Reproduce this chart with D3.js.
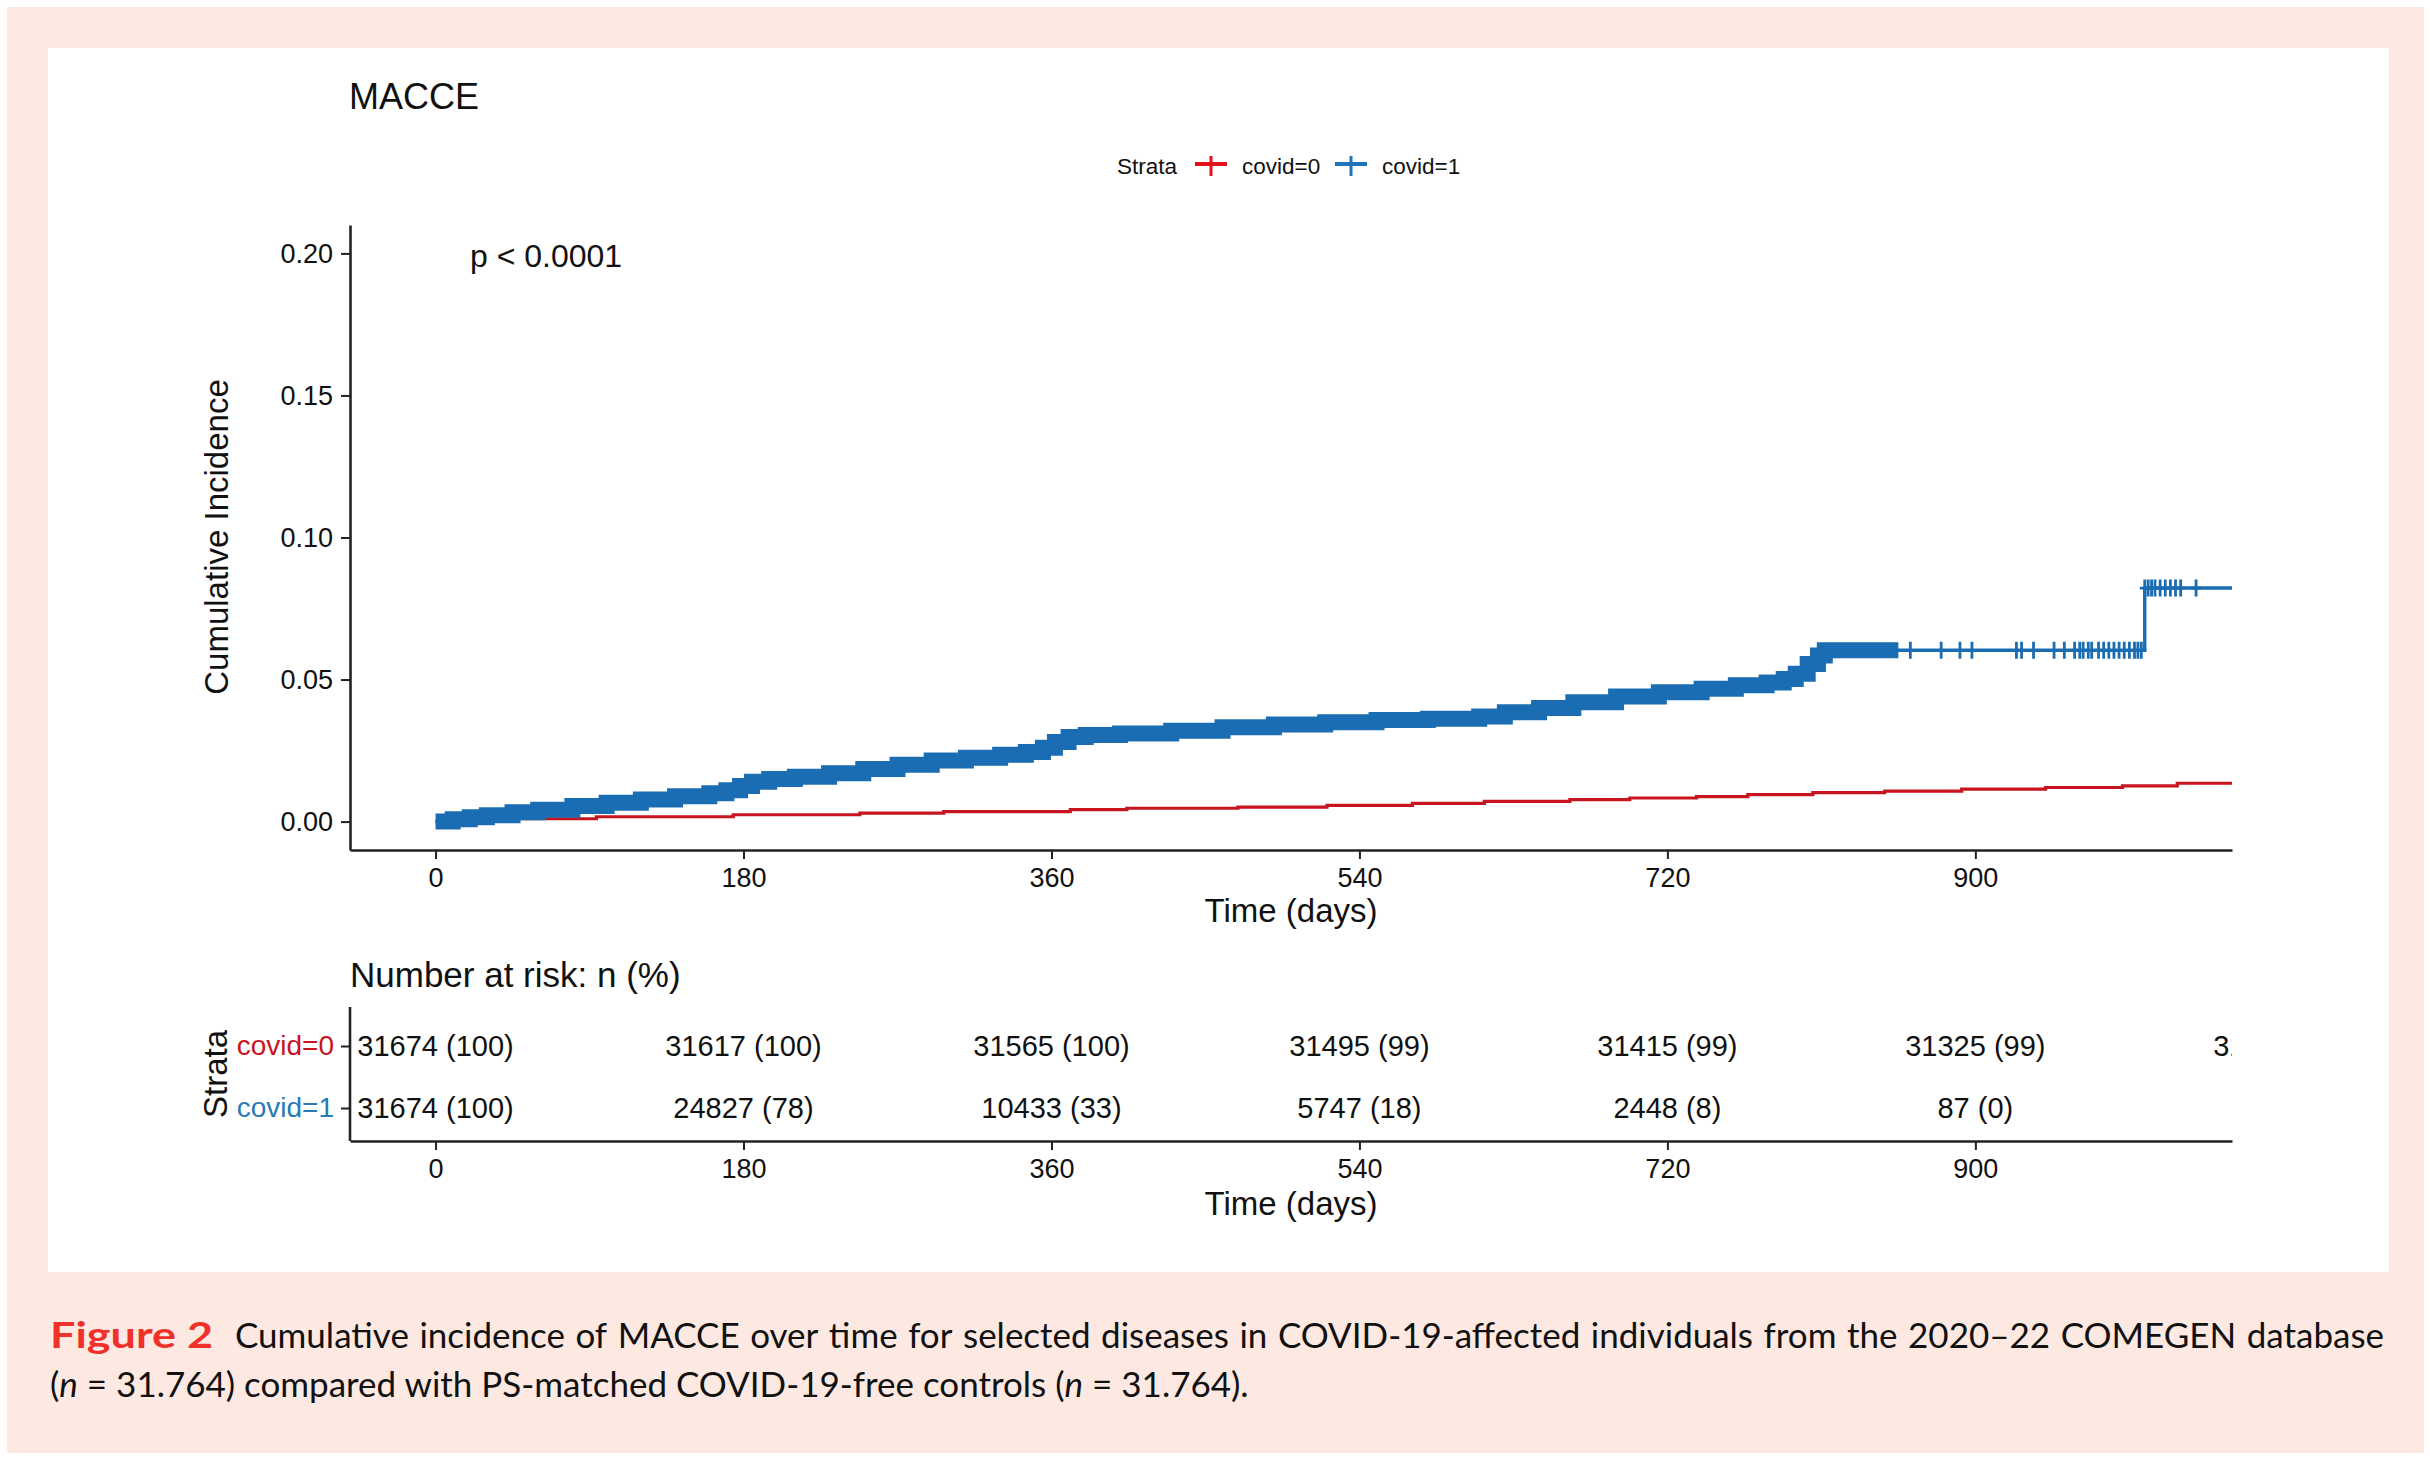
<!DOCTYPE html>
<html lang="en">
<head>
<meta charset="UTF-8">
<title>MACCE</title>
<script src="https://cdnjs.cloudflare.com/ajax/libs/d3/7.8.5/d3.min.js"></script>
<style>
  body { margin: 0; background: #fff; }
  svg { display: block; }
  text { font-family: "Liberation Sans", Arial, sans-serif; fill: #111; }
  .axis path, .axis line { stroke: #222; }
</style>
</head>
<body>
<svg id="chart" width="2430" height="1460"></svg>
<script>
// ---- data ----
var strata = ["covid=0", "covid=1"];
var xTicks = [0, 180, 360, 540, 720, 900];
var yTicks = [0, 0.05, 0.10, 0.15, 0.20];

// covid=0 step curve (days, cumulative incidence)
var covid0Time = [0, 20, 47, 94, 174, 248, 297, 371, 404, 469, 521, 571, 613, 663, 698, 737, 767, 805, 847, 892, 941, 986, 1018];
var covid0Inc  = [0, 0.0005, 0.0010, 0.0017, 0.0024, 0.0030, 0.0035, 0.0042, 0.0047, 0.0051, 0.0057, 0.0064, 0.0071, 0.0077, 0.0083, 0.0088, 0.0095, 0.0102, 0.0107, 0.0114, 0.0120, 0.0126, 0.0135];

// covid=1 step curve
var covid1Time = [0, 10, 20, 30, 45, 60, 80, 100, 120, 140, 160, 170, 178, 185, 195, 210, 230, 250, 270, 290, 310, 330, 345, 355, 362, 370, 380, 400, 430, 460, 490, 520, 550, 580, 610, 625, 645, 665, 690, 715, 740, 760, 778, 788, 795, 802, 808, 812, 999];
var covid1Inc  = [0, 0.0008, 0.0015, 0.0022, 0.0033, 0.0042, 0.0055, 0.0066, 0.0078, 0.0089, 0.0100, 0.0110, 0.0125, 0.0140, 0.0150, 0.0158, 0.0170, 0.0185, 0.0200, 0.0215, 0.0225, 0.0235, 0.0245, 0.0260, 0.0280, 0.0298, 0.0305, 0.0310, 0.0320, 0.0332, 0.0342, 0.0350, 0.0358, 0.0362, 0.0370, 0.0385, 0.0400, 0.0420, 0.0440, 0.0455, 0.0468, 0.0480, 0.0490, 0.0502, 0.0520, 0.0555, 0.0585, 0.0603, 0.0822];

// censoring of covid=1: continuous up to ~855 days, then single marks
var covid1DenseCensor = [0, 855];
var covid1Censor = [862, 880, 891, 898, 924, 927, 934, 946, 952, 958, 961, 963, 966, 968, 972, 975, 978, 981, 984, 987, 990, 993, 995, 997,
                    999, 1001, 1003, 1005, 1008, 1011, 1014, 1017, 1020, 1029];

// number at risk table
var riskTimes = [0, 180, 360, 540, 720, 900, 1080];
var risk0 = ["31674 (100)", "31617 (100)", "31565 (100)", "31495 (99)", "31415 (99)", "31325 (99)", "31235 (99)"];
var risk1 = ["31674 (100)", "24827 (78)", "10433 (33)", "5747 (18)", "2448 (8)", "87 (0)", "0 (0)"];

var captionLabel = "Figure 2";
var captionLine1 = "Cumulative incidence of MACCE over time for selected diseases in COVID-19-affected individuals from the 2020\u201322 COMEGEN database";

// ---- drawing ----
var red = "#c8141e", blue = "#1b6db3";
var svg = d3.select("#chart");

svg.append("rect").attr("x", 7).attr("y", 7).attr("width", 2417).attr("height", 1446).attr("fill", "#fde9e2");
svg.append("rect").attr("x", 48).attr("y", 48).attr("width", 2341).attr("height", 1224).attr("fill", "#fff");

var x = d3.scaleLinear().domain([-50, 1050]).range([350, 2232]);
var y = d3.scaleLinear().domain([-0.01, 0.21]).range([850, 225]);

svg.append("defs").append("clipPath").attr("id", "plotclip")
  .append("rect").attr("x", 350).attr("y", 215).attr("width", 1882).attr("height", 640);
svg.select("defs").append("clipPath").attr("id", "riskclip")
  .append("rect").attr("x", 352).attr("y", 1007).attr("width", 1880).attr("height", 130);

// title, p value
svg.append("text").attr("x", 349).attr("y", 109).style("font-size", "36px").text("MACCE");
svg.append("text").attr("x", 470).attr("y", 267).style("font-size", "32px").text("p < 0.0001");

// legend
var leg = svg.append("g").style("font-size", "22.5px");
leg.append("text").attr("x", 1117).attr("y", 174).text("Strata");
[[1211, 1242, "#e3121b", strata[0]], [1351, 1382, "#1f74bd", strata[1]]].forEach(function(k) {
  leg.append("line").attr("x1", k[0] - 16).attr("x2", k[0] + 16).attr("y1", 164).attr("y2", 164)
    .attr("stroke", k[2]).attr("stroke-width", 4);
  leg.append("line").attr("x1", k[0]).attr("x2", k[0]).attr("y1", 156).attr("y2", 176)
    .attr("stroke", k[2]).attr("stroke-width", 3);
  leg.append("text").attr("x", k[1]).attr("y", 174).text(k[3]);
});

// axes
function styleAxis(g, size) {
  g.attr("class", "axis");
  g.select(".domain").attr("stroke-width", 2.6);
  g.selectAll(".tick line").attr("stroke-width", 2);
  g.selectAll(".tick text").style("font-size", size).style("font-family", "'Liberation Sans', Arial, sans-serif");
}
svg.append("g").attr("transform", "translate(350,0)")
  .call(d3.axisLeft(y).tickValues(yTicks).tickFormat(d3.format(".2f")).tickSize(9).tickPadding(8).tickSizeOuter(0))
  .call(styleAxis, "27px");
svg.append("g").attr("transform", "translate(0,850)")
  .call(d3.axisBottom(x).tickValues(xTicks).tickSize(9).tickPadding(9).tickSizeOuter(0))
  .call(styleAxis, "27px");

svg.append("text").attr("transform", "translate(228,537) rotate(-90)").attr("text-anchor", "middle")
  .style("font-size", "33px").text("Cumulative Incidence");
svg.append("text").attr("x", 1291).attr("y", 922).attr("text-anchor", "middle")
  .style("font-size", "33px").text("Time (days)");

// curves
function stepAt(times, vals, t) {
  var i = d3.bisectRight(times, t) - 1;
  return vals[Math.max(i, 0)];
}
var line = d3.line().x(function(d) { return x(d[0]); }).y(function(d) { return y(d[1]); }).curve(d3.curveStepAfter);
var pts0 = covid0Time.map(function(t, i) { return [t, covid0Inc[i]]; }).concat([[1050, covid0Inc[covid0Inc.length - 1]]]);
var pts1 = covid1Time.map(function(t, i) { return [t, covid1Inc[i]]; }).concat([[1050, covid1Inc[covid1Inc.length - 1]]]);
var dense = pts1.filter(function(d) { return d[0] >= covid1DenseCensor[0] && d[0] <= covid1DenseCensor[1]; })
  .concat([[covid1DenseCensor[1], stepAt(covid1Time, covid1Inc, covid1DenseCensor[1])]]);

var curves = svg.append("g").attr("clip-path", "url(#plotclip)");
curves.append("path").datum(pts0).attr("d", line).attr("fill", "none").attr("stroke", red).attr("stroke-width", 3.2);
curves.append("path").datum(pts1).attr("d", line).attr("fill", "none").attr("stroke", blue).attr("stroke-width", 3.4);
curves.append("path").datum(dense).attr("d", line).attr("fill", "none").attr("stroke", blue).attr("stroke-width", 16);
curves.selectAll(".cens").data(covid1Censor).enter().append("path").attr("class", "cens")
  .attr("d", function(t) {
    var cx = x(t), cy = y(stepAt(covid1Time, covid1Inc, t));
    return "M" + (cx - 5) + "," + cy + "H" + (cx + 5) + "M" + cx + "," + (cy - 8.5) + "V" + (cy + 8.5);
  })
  .attr("stroke", blue).attr("stroke-width", 2.8).attr("fill", "none");

// risk table
svg.append("text").attr("x", 350).attr("y", 987).style("font-size", "35px").text("Number at risk: n (%)");
var ry = d3.scalePoint().domain(strata).range([1046, 1108]);
var ra = svg.append("g").attr("transform", "translate(350,0)")
  .call(d3.axisLeft(ry).tickSize(9).tickPadding(7).tickSizeOuter(0))
  .call(styleAxis, "28px");
ra.select(".domain").remove();
ra.append("line").attr("x1", 0).attr("x2", 0).attr("y1", 1007).attr("y2", 1141).attr("stroke", "#222").attr("stroke-width", 2.6);
ra.selectAll(".tick text").style("fill", function(d, i) { return i === 0 ? "#c8141e" : "#2a7ab8"; });
svg.append("g").attr("transform", "translate(0,1141)")
  .call(d3.axisBottom(x).tickValues(xTicks).tickSize(9).tickPadding(9).tickSizeOuter(0))
  .call(styleAxis, "27px");

var rt = svg.append("g").attr("clip-path", "url(#riskclip)").style("font-size", "29px");
[risk0, risk1].forEach(function(row, r) {
  rt.selectAll(".r" + r).data(row).enter().append("text").attr("class", "r" + r)
    .attr("x", function(d, i) { return x(riskTimes[i]); })
    .attr("y", ry(strata[r]))
    .attr("dy", "0.36em")
    .attr("text-anchor", "middle")
    .text(function(d) { return d; });
});

svg.append("text").attr("transform", "translate(227,1074) rotate(-90)").attr("text-anchor", "middle")
  .style("font-size", "33px").text("Strata");
svg.append("text").attr("x", 1291).attr("y", 1215).attr("text-anchor", "middle")
  .style("font-size", "33px").text("Time (days)");

// caption
var capFont = "Lato, 'Open Sans', sans-serif";
var cap = svg.append("g");
var capSize = 35;
var line2 = cap.append("text").attr("x", 50).attr("y", 1397).style("font-size", capSize + "px").style("font-family", capFont);
line2.append("tspan").text("(");
line2.append("tspan").style("font-style", "italic").text("n");
line2.append("tspan").text(" = 31.764) compared with PS-matched COVID-19-free controls (");
line2.append("tspan").style("font-style", "italic").text("n");
line2.append("tspan").text(" = 31.764).");
var w2 = line2.node().getComputedTextLength();
capSize = Math.max(30, Math.min(40, capSize * 1199 / w2));
line2.style("font-size", capSize + "px");

cap.append("text").attr("x", 50).attr("y", 1348)
  .style("font-size", (capSize * 1.06) + "px").style("font-family", capFont).style("font-weight", "bold")
  .style("fill", "#f0302a").attr("textLength", 163).attr("lengthAdjust", "spacingAndGlyphs")
  .text(captionLabel);

var words = captionLine1.split(" ");
var nodes = words.map(function(w) {
  return cap.append("text").attr("y", 1348).style("font-size", capSize + "px")
    .style("font-family", capFont).text(w);
});
var widths = nodes.map(function(n) { return n.node().getComputedTextLength(); });
var startX = 235;
var gap = (2384 - startX - d3.sum(widths)) / (words.length - 1);
var cx = startX;
nodes.forEach(function(n, i) { n.attr("x", cx); cx += widths[i] + gap; });
</script>
</body>
</html>
